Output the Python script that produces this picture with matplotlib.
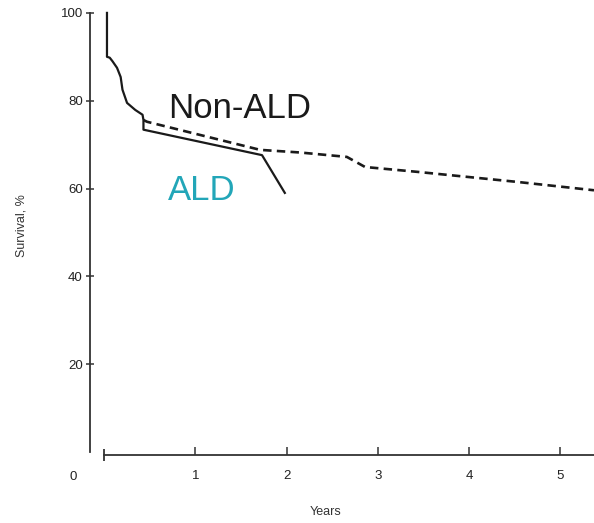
import matplotlib
matplotlib.use("Agg")
import matplotlib.pyplot as plt

# Shared early part of both survival curves (years, survival %)
shared_years = [0.03, 0.03, 0.06, 0.09, 0.14, 0.18, 0.20, 0.25, 0.34, 0.42, 0.43]
shared_surv = [100.0, 90.0, 89.8, 89.0, 87.5, 85.4, 82.5, 79.5, 77.9, 76.8, 75.6]

# ALD (solid) continuation
ald_years = [0.43, 1.73, 1.98]
ald_surv = [73.4, 67.6, 59.0]

# Non-ALD (dashed) continuation
nonald_years = [0.43, 0.47, 1.71, 2.15, 2.66, 2.86, 3.43, 4.53, 5.37]
nonald_surv = [75.6, 75.2, 68.8, 68.2, 67.2, 64.9, 63.8, 61.5, 59.6]

yticks = [20, 40, 60, 80, 100]
xticks = [1, 2, 3, 4, 5]

W, H = 594, 523
fig = plt.figure(figsize=(W / 100, H / 100), dpi=100)
plt.rcParams['font.family'] = ['Liberation Sans', 'DejaVu Sans']

x0px, x1px = 86, 594
y0px, y1px = 455, 5
ax = fig.add_axes([x0px / W, 1 - y0px / H, (x1px - x0px) / W, (y0px - y1px) / H])
ax.set_xlim(-0.2, 5.37)
ax.set_ylim(-0.7, 101.8)

lc = '#1a1a1a'
ax.plot(shared_years + ald_years, shared_surv + ald_surv, color=lc, lw=1.6,
        solid_joinstyle='round')
ax.plot(nonald_years, nonald_surv, color=lc, lw=1.9, linestyle=(0, (3.2, 2.0)))

for s in ['top', 'right']:
    ax.spines[s].set_visible(False)
ax.spines['left'].set_position(('data', -0.16))
ax.spines['left'].set_bounds(0, 100)
ax.spines['bottom'].set_bounds(0, 5.37)
for s in ['left', 'bottom']:
    ax.spines[s].set_color('#333333')
    ax.spines[s].set_linewidth(1.3)

ax.set_yticks(yticks)
ax.set_yticklabels([str(v) for v in yticks])
ax.set_xticks(xticks)
ax.set_xticklabels([str(v) for v in xticks])
ax.set_xticks([0], minor=True)
ax.tick_params(axis='y', direction='inout', length=6, width=1.1, color='#333333',
               labelsize=9.5, labelcolor='#222222', pad=2)
ax.tick_params(axis='x', which='major', direction='in', length=6, width=1.1, color='#333333',
               labelsize=9.5, labelcolor='#222222', pad=11)
ax.tick_params(axis='x', which='minor', direction='inout', length=9, width=1.3, color='#333333')

fig.text(73 / W, 1 - 477 / H, '0', ha='center', va='center', fontsize=9.5, color='#222222')
fig.text(326 / W, 1 - 512 / H, 'Years', ha='center', va='center', fontsize=9, color='#333333')
fig.text(21 / W, 1 - 226 / H, 'Survival, %', ha='center', va='center', rotation=90,
         fontsize=9, color='#333333')

fig.text(168 / W, 1 - 118 / H, 'Non-ALD', ha='left', va='baseline', fontsize=25, color='#1a1a1a')
fig.text(168 / W, 1 - 200 / H, 'ALD', ha='left', va='baseline', fontsize=25, color='#22a6b8')

fig.savefig('out.png', dpi=100)
